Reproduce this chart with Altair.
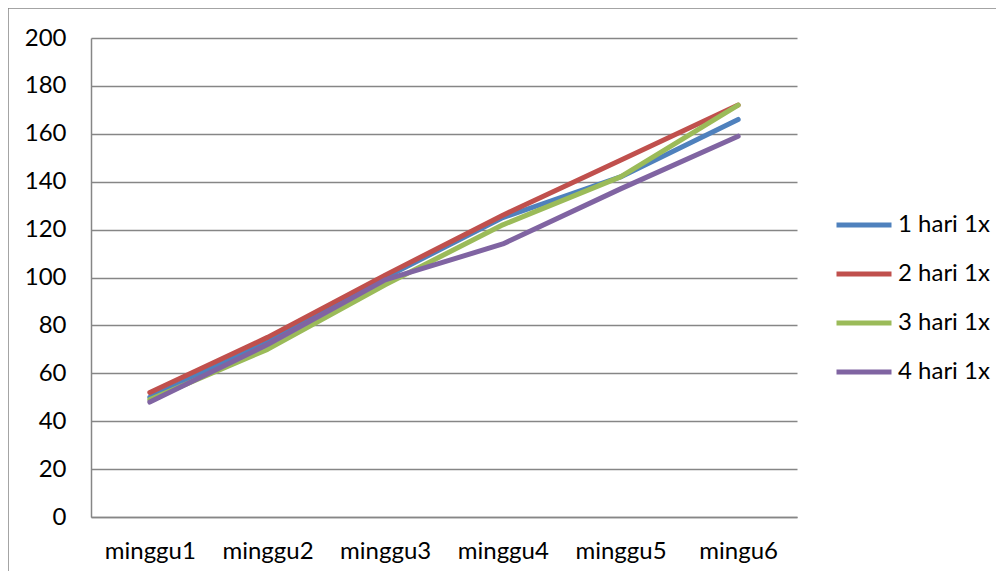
import altair as alt
import pandas as pd

weeks = ["minggu1", "minggu2", "minggu3", "minggu4", "minggu5", "mingu6"]
series_names = ["1 hari 1x", "2 hari 1x", "3 hari 1x", "4 hari 1x"]
s1 = [50, 73, 100, 125, 142, 166]
s2 = [52, 75, 101, 126, 149, 172]
s3 = [49, 70, 97, 122, 142, 172]
s4 = [48, 72, 99, 114, 137, 159]
colors = ["#4F81BD", "#C0504D", "#9BBB59", "#8064A2"]

rows = []
for name, vals in zip(series_names, [s1, s2, s3, s4]):
    for w, v in zip(weeks, vals):
        rows.append({"week": w, "value": v, "series": name})
df = pd.DataFrame(rows)

FONT = "Lato"

lines = alt.Chart(df).mark_line(strokeWidth=5, strokeCap="round", strokeJoin="round").encode(
    x=alt.X("week:N", sort=weeks, title=None,
            scale=alt.Scale(paddingInner=0, paddingOuter=0.5),
            axis=alt.Axis(labelAngle=0, ticks=False, domain=True, domainColor="#868686",
                          domainWidth=1.5, labelPadding=22, labelFontSize=24, labelFont=FONT,
                          labelColor="#000000", grid=False)),
    y=alt.Y("value:Q", title=None,
            scale=alt.Scale(domain=[0, 200], nice=False),
            axis=alt.Axis(values=list(range(0, 201, 20)), ticks=False, domainColor="#868686",
                          domainWidth=1.5, gridColor="#868686", gridWidth=1.5,
                          labelPadding=25, labelFontSize=24, labelFont=FONT, labelColor="#000000")),
    color=alt.Color("series:N", sort=series_names,
                    scale=alt.Scale(domain=series_names, range=colors),
                    legend=alt.Legend(title=None, orient="none", legendX=743, legendY=157,
                                      symbolType="stroke", symbolStrokeWidth=5, symbolSize=3025,
                                      labelFontSize=24, labelFont=FONT, labelColor="#000000",
                                      labelOffset=4, rowPadding=7, padding=0)),
)

frame_top = alt.Chart(pd.DataFrame({"a": [0]})).mark_rule(color="#868686", strokeWidth=1.5).encode(
    x=alt.value(-83), x2=alt.value(905), y=alt.value(-30)
)
frame_left = alt.Chart(pd.DataFrame({"a": [0]})).mark_rule(color="#868686", strokeWidth=1.5).encode(
    x=alt.value(-83), y=alt.value(-30), y2=alt.value(540)
)

chart = alt.layer(lines, frame_top, frame_left).properties(
    width=706, height=479,
    autosize=alt.AutoSizeParams(type="none"),
    padding={"left": 83, "top": 30, "right": 201, "bottom": 54},
).configure_view(stroke=None)

chart.save("out.html", embed_options={"renderer": "svg", "actions": False})
